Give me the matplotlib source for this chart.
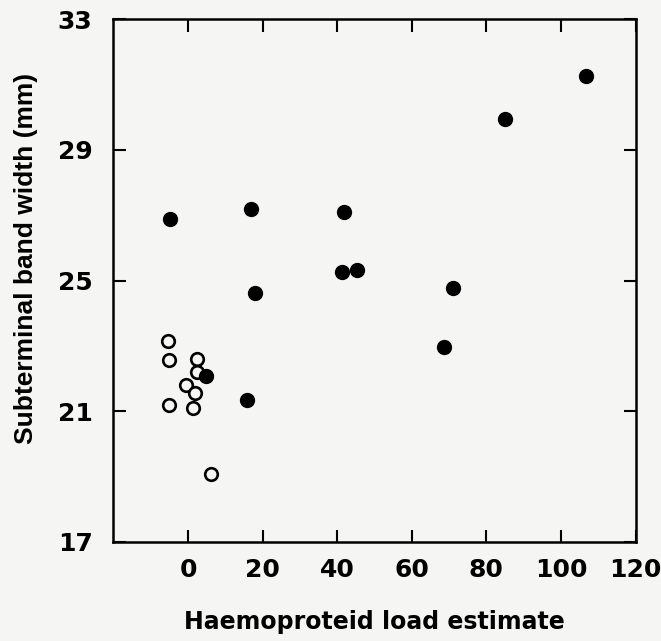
import matplotlib
matplotlib.use("Agg")
import matplotlib.pyplot as plt

# infected birds (filled) and uninfected birds (open)
infected_load = [106.7, 85.0, -4.8, 16.9, 41.8, 41.3, 45.3, 18.0, 71.0, 68.6, 4.8, 15.8]
infected_band = [31.27, 29.95, 26.89, 27.19, 27.10, 25.26, 25.32, 24.62, 24.77, 22.96, 22.07, 21.34]

clean_load = [-5.4, -5.1, 2.4, 2.4, -0.5, 1.9, -5.1, 1.3, 6.2]
clean_band = [23.15, 22.56, 22.59, 22.20, 21.80, 21.56, 21.19, 21.10, 19.07]

x_ticks = [0, 20, 40, 60, 80, 100, 120]
y_ticks = [17, 21, 25, 29, 33]

plt.rcParams['font.family'] = ['DejaVu Sans']
plt.rcParams['font.weight'] = 'bold'

bg = '#f5f5f3'
fig = plt.figure(figsize=(6.61, 6.41), dpi=100, facecolor=bg)
ax = fig.add_axes([0.1716, 0.1552, 0.790, 0.8144], facecolor=bg)

ax.scatter(clean_load, clean_band, s=82, facecolors=bg, edgecolors='black',
           linewidths=1.9, zorder=3)
ax.scatter(infected_load, infected_band, s=100, color='black', zorder=4)

ax.set_xlim(-20, 120)
ax.set_ylim(17, 33)
ax.set_xticks(x_ticks)
ax.set_yticks(y_ticks)
ax.tick_params(direction='in', length=9, width=1.5, labelsize=18,
               top=True, right=True, labeltop=False, labelright=False)
ax.tick_params(axis='x', pad=12)
ax.tick_params(axis='y', pad=15)
for s in ax.spines.values():
    s.set_linewidth(1.8)

ax.set_xlabel("Haemoproteid load estimate", fontsize=17, fontweight='bold', labelpad=20)
ax.set_ylabel("Subterminal band width (mm)", fontsize=19, fontweight='bold',
              family=['Liberation Sans', 'DejaVu Sans'])
ax.yaxis.set_label_coords(-0.144, 0.542)

fig.savefig("out.png", dpi=100, facecolor=bg)
